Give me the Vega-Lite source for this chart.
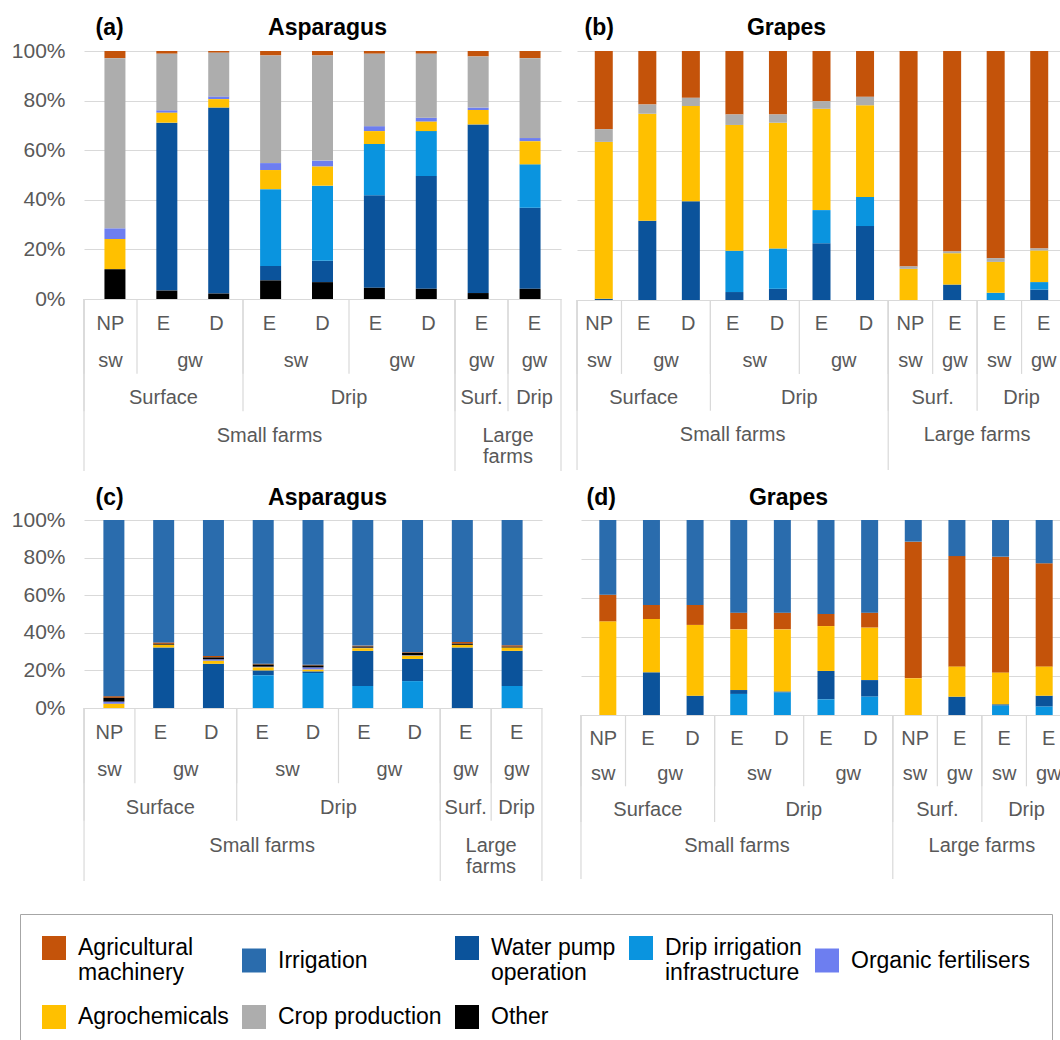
{
  "$schema": "https://vega.github.io/schema/vega-lite/v6.json",
  "background": "white",
  "padding": {"left": 11, "top": 16, "right": 0, "bottom": 0},
  "config": {
    "view": {"stroke": null},
    "font": "Liberation Sans",
    "axis": {"gridColor": "#d9d9d9", "domainColor": "#d9d9d9"},
    "legend": {
      "orient": "none", "legendX": -64, "legendY": 863,
      "direction": "horizontal", "columns": 5, "gridAlign": "each",
      "symbolType": "square", "symbolSize": 576, "symbolStrokeWidth": 0,
      "labelFontSize": 23, "labelColor": "#000000", "labelLimit": 400, "labelOffset": 12,
      "columnPadding": 13, "rowPadding": 20, "padding": 22,
      "strokeColor": "#a6a6a6", "fillColor": "#ffffff", "title": null
    }
  },
  "datasets": {
    "orderTop": [
      {"c": "Other", "r": 0}, {"c": "Water pump operation", "r": 1}, {"c": "Drip irrigation infrastructure", "r": 2},
      {"c": "Agrochemicals", "r": 3}, {"c": "Organic fertilisers", "r": 4}, {"c": "Crop production", "r": 5},
      {"c": "Agricultural machinery", "r": 6}, {"c": "Irrigation", "r": 7}
    ],
    "orderBottom": [
      {"c": "Drip irrigation infrastructure", "r": 0}, {"c": "Water pump operation", "r": 1}, {"c": "Agrochemicals", "r": 2},
      {"c": "Organic fertilisers", "r": 3}, {"c": "Crop production", "r": 4}, {"c": "Other", "r": 5},
      {"c": "Agricultural machinery", "r": 6}, {"c": "Irrigation", "r": 7}
    ],
    "a": [
      {"i": 0, "l1": "NP", "l2": "sw", "l3": "Surface", "l4": "Small farms", "Other": 12.0, "Agrochemicals": 12.2, "Organic fertilisers": 4.3, "Crop production": 68.6, "Agricultural machinery": 2.9},
      {"i": 1, "l1": "E", "l2": "gw", "l3": "Surface", "l4": "Small farms", "Other": 3.4, "Water pump operation": 67.7, "Agrochemicals": 4.0, "Organic fertilisers": 1.0, "Crop production": 22.8, "Agricultural machinery": 1.1},
      {"i": 2, "l1": "D", "l2": "gw", "l3": "Surface", "l4": "Small farms", "Other": 2.2, "Water pump operation": 75.0, "Agrochemicals": 3.4, "Organic fertilisers": 1.1, "Crop production": 17.6, "Agricultural machinery": 0.7},
      {"i": 3, "l1": "E", "l2": "sw", "l3": "Drip", "l4": "Small farms", "Other": 7.5, "Water pump operation": 5.8, "Drip irrigation infrastructure": 31.0, "Agrochemicals": 7.7, "Organic fertilisers": 2.8, "Crop production": 43.4, "Agricultural machinery": 1.8},
      {"i": 4, "l1": "D", "l2": "sw", "l3": "Drip", "l4": "Small farms", "Other": 6.8, "Water pump operation": 8.6, "Drip irrigation infrastructure": 30.3, "Agrochemicals": 7.7, "Organic fertilisers": 2.4, "Crop production": 42.4, "Agricultural machinery": 1.8},
      {"i": 5, "l1": "E", "l2": "gw", "l3": "Drip", "l4": "Small farms", "Other": 4.5, "Water pump operation": 37.3, "Drip irrigation infrastructure": 20.7, "Agrochemicals": 5.2, "Organic fertilisers": 2.0, "Crop production": 29.2, "Agricultural machinery": 1.1},
      {"i": 6, "l1": "D", "l2": "gw", "l3": "Drip", "l4": "Small farms", "Other": 4.1, "Water pump operation": 45.5, "Drip irrigation infrastructure": 18.1, "Agrochemicals": 3.8, "Organic fertilisers": 1.6, "Crop production": 25.8, "Agricultural machinery": 1.1},
      {"i": 7, "l1": "E", "l2": "gw", "l3": "Surf.", "l4": "Large\nfarms", "Other": 2.4, "Water pump operation": 68.0, "Agrochemicals": 5.8, "Organic fertilisers": 1.0, "Crop production": 20.6, "Agricultural machinery": 2.2},
      {"i": 8, "l1": "E", "l2": "gw", "l3": "Drip", "l4": "Large\nfarms", "Other": 4.1, "Water pump operation": 32.7, "Drip irrigation infrastructure": 17.5, "Agrochemicals": 9.3, "Organic fertilisers": 1.3, "Crop production": 32.2, "Agricultural machinery": 2.9}
    ],
    "b": [
      {"i": 0, "l1": "NP", "l2": "sw", "l3": "Surface", "l4": "Small farms", "Water pump operation": 0.5, "Agrochemicals": 63.0, "Crop production": 5.1, "Agricultural machinery": 31.4},
      {"i": 1, "l1": "E", "l2": "gw", "l3": "Surface", "l4": "Small farms", "Water pump operation": 31.8, "Agrochemicals": 43.0, "Crop production": 3.7, "Agricultural machinery": 21.5},
      {"i": 2, "l1": "D", "l2": "gw", "l3": "Surface", "l4": "Small farms", "Water pump operation": 39.7, "Agrochemicals": 38.2, "Crop production": 3.3, "Agricultural machinery": 18.8},
      {"i": 3, "l1": "E", "l2": "sw", "l3": "Drip", "l4": "Small farms", "Water pump operation": 3.2, "Drip irrigation infrastructure": 16.6, "Agrochemicals": 50.5, "Crop production": 4.2, "Agricultural machinery": 25.5},
      {"i": 4, "l1": "D", "l2": "sw", "l3": "Drip", "l4": "Small farms", "Water pump operation": 4.5, "Drip irrigation infrastructure": 16.2, "Agrochemicals": 50.5, "Crop production": 3.3, "Agricultural machinery": 25.5},
      {"i": 5, "l1": "E", "l2": "gw", "l3": "Drip", "l4": "Small farms", "Water pump operation": 22.8, "Drip irrigation infrastructure": 13.3, "Agrochemicals": 40.7, "Crop production": 3.0, "Agricultural machinery": 20.2},
      {"i": 6, "l1": "D", "l2": "gw", "l3": "Drip", "l4": "Small farms", "Water pump operation": 29.7, "Drip irrigation infrastructure": 11.7, "Agrochemicals": 36.8, "Crop production": 3.4, "Agricultural machinery": 18.4},
      {"i": 7, "l1": "NP", "l2": "sw", "l3": "Surf.", "l4": "Large farms", "Agrochemicals": 12.5, "Crop production": 1.0, "Agricultural machinery": 86.5},
      {"i": 8, "l1": "E", "l2": "gw", "l3": "Surf.", "l4": "Large farms", "Water pump operation": 6.2, "Agrochemicals": 12.6, "Crop production": 0.7, "Agricultural machinery": 80.5},
      {"i": 9, "l1": "E", "l2": "sw", "l3": "Drip", "l4": "Large farms", "Drip irrigation infrastructure": 2.9, "Agrochemicals": 12.4, "Crop production": 1.5, "Agricultural machinery": 83.2},
      {"i": 10, "l1": "E", "l2": "gw", "l3": "Drip", "l4": "Large farms", "Water pump operation": 4.2, "Drip irrigation infrastructure": 3.0, "Agrochemicals": 12.7, "Crop production": 0.8, "Agricultural machinery": 79.3}
    ],
    "c": [
      {"i": 0, "l1": "NP", "l2": "sw", "l3": "Surface", "l4": "Small farms", "Agrochemicals": 2.2, "Organic fertilisers": 1.2, "Other": 2.0, "Agricultural machinery": 0.9, "Irrigation": 93.7},
      {"i": 1, "l1": "E", "l2": "gw", "l3": "Surface", "l4": "Small farms", "Water pump operation": 32.2, "Agrochemicals": 1.5, "Other": 0.4, "Agricultural machinery": 0.8, "Irrigation": 65.1},
      {"i": 2, "l1": "D", "l2": "gw", "l3": "Surface", "l4": "Small farms", "Water pump operation": 23.5, "Agrochemicals": 1.6, "Organic fertilisers": 0.8, "Other": 1.0, "Agricultural machinery": 0.8, "Irrigation": 72.3},
      {"i": 3, "l1": "E", "l2": "sw", "l3": "Drip", "l4": "Small farms", "Drip irrigation infrastructure": 17.4, "Water pump operation": 2.6, "Agrochemicals": 1.6, "Organic fertilisers": 0.4, "Other": 1.1, "Agricultural machinery": 0.5, "Irrigation": 76.4},
      {"i": 4, "l1": "D", "l2": "sw", "l3": "Drip", "l4": "Small farms", "Drip irrigation infrastructure": 18.6, "Water pump operation": 0.9, "Agrochemicals": 0.9, "Organic fertilisers": 1.2, "Other": 1.0, "Agricultural machinery": 0.4, "Irrigation": 77.0},
      {"i": 5, "l1": "E", "l2": "gw", "l3": "Drip", "l4": "Small farms", "Drip irrigation infrastructure": 11.7, "Water pump operation": 18.7, "Agrochemicals": 1.4, "Organic fertilisers": 0.3, "Other": 0.6, "Agricultural machinery": 0.5, "Irrigation": 66.8},
      {"i": 6, "l1": "D", "l2": "gw", "l3": "Drip", "l4": "Small farms", "Drip irrigation infrastructure": 14.3, "Water pump operation": 11.8, "Agrochemicals": 1.7, "Organic fertilisers": 0.3, "Other": 1.2, "Agricultural machinery": 0.4, "Irrigation": 70.3},
      {"i": 7, "l1": "E", "l2": "gw", "l3": "Surf.", "l4": "Large\nfarms", "Water pump operation": 32.2, "Agrochemicals": 1.4, "Other": 0.6, "Agricultural machinery": 0.9, "Irrigation": 64.9},
      {"i": 8, "l1": "E", "l2": "gw", "l3": "Drip", "l4": "Large\nfarms", "Drip irrigation infrastructure": 11.7, "Water pump operation": 18.7, "Agrochemicals": 1.8, "Other": 0.4, "Agricultural machinery": 0.8, "Irrigation": 66.6}
    ],
    "d": [
      {"i": 0, "l1": "NP", "l2": "sw", "l3": "Surface", "l4": "Small farms", "Agrochemicals": 47.9, "Agricultural machinery": 13.8, "Irrigation": 38.3},
      {"i": 1, "l1": "E", "l2": "gw", "l3": "Surface", "l4": "Small farms", "Water pump operation": 21.9, "Agrochemicals": 27.3, "Agricultural machinery": 7.2, "Irrigation": 43.6},
      {"i": 2, "l1": "D", "l2": "gw", "l3": "Surface", "l4": "Small farms", "Water pump operation": 9.9, "Agrochemicals": 36.3, "Agricultural machinery": 10.2, "Irrigation": 43.6},
      {"i": 3, "l1": "E", "l2": "sw", "l3": "Drip", "l4": "Small farms", "Drip irrigation infrastructure": 10.8, "Water pump operation": 2.0, "Agrochemicals": 31.1, "Agricultural machinery": 8.6, "Irrigation": 47.5},
      {"i": 4, "l1": "D", "l2": "sw", "l3": "Drip", "l4": "Small farms", "Drip irrigation infrastructure": 11.5, "Water pump operation": 0.6, "Agrochemicals": 31.8, "Agricultural machinery": 8.6, "Irrigation": 47.5},
      {"i": 5, "l1": "E", "l2": "gw", "l3": "Drip", "l4": "Small farms", "Drip irrigation infrastructure": 8.0, "Water pump operation": 14.6, "Agrochemicals": 23.0, "Agricultural machinery": 6.2, "Irrigation": 48.2},
      {"i": 6, "l1": "D", "l2": "gw", "l3": "Drip", "l4": "Small farms", "Drip irrigation infrastructure": 9.4, "Water pump operation": 8.5, "Agrochemicals": 26.9, "Agricultural machinery": 7.7, "Irrigation": 47.5},
      {"i": 7, "l1": "NP", "l2": "sw", "l3": "Surf.", "l4": "Large farms", "Agrochemicals": 18.8, "Agricultural machinery": 70.1, "Irrigation": 11.1},
      {"i": 8, "l1": "E", "l2": "gw", "l3": "Surf.", "l4": "Large farms", "Water pump operation": 9.4, "Agrochemicals": 15.4, "Agricultural machinery": 56.7, "Irrigation": 18.5},
      {"i": 9, "l1": "E", "l2": "sw", "l3": "Drip", "l4": "Large farms", "Drip irrigation infrastructure": 4.8, "Water pump operation": 0.7, "Agrochemicals": 16.2, "Agricultural machinery": 59.5, "Irrigation": 18.8},
      {"i": 10, "l1": "E", "l2": "gw", "l3": "Drip", "l4": "Large farms", "Drip irrigation infrastructure": 4.3, "Water pump operation": 5.6, "Agrochemicals": 14.9, "Agricultural machinery": 53.0, "Irrigation": 22.2}
    ]
  },
  "resolve": {"scale": {"x": "independent", "y": "independent"}},
  "spacing": 14,
  "vconcat": [
    {
      "resolve": {"scale": {"x": "independent", "y": "independent"}},
      "spacing": 14,
      "hconcat": [
        {
          "bounds": "flush", "spacing": 0,
          "resolve": {"scale": {"x": "independent", "y": "independent"}},
          "vconcat": [
            {
              "width": 477, "height": 248,
              "data": {"name": "a"},
              "transform": [
                {"fold": ["Agricultural machinery", "Irrigation", "Water pump operation", "Drip irrigation infrastructure", "Organic fertilisers", "Agrochemicals", "Crop production", "Other"], "as": ["c", "v"]},
                {"filter": "isValid(datum.v)"},
                {"lookup": "c", "from": {"data": {"name": "orderTop"}, "key": "c", "fields": ["r"]}}
              ],
              "mark": {"type": "bar", "size": 21},
              "encoding": {
                "x": {"field": "i", "type": "quantitative", "scale": {"domain": [-0.5, 8.5], "nice": false, "zero": false},
                  "axis": {"orient": "top", "domain": false, "ticks": false, "labels": false, "grid": false, "title": "Asparagus", "titleFontSize": 23, "titleFontWeight": "bold", "titleColor": "#000000", "titleX": 243, "titleY": -24, "titleBaseline": "middle", "titleAlign": "center"}},
                "y": {"field": "v", "type": "quantitative", "stack": "normalize",
                  "axis": {"values": [0, 0.2, 0.4, 0.6, 0.8, 1], "format": ".0%", "domain": false, "ticks": false, "labelPadding": 19, "labelFontSize": 21, "labelColor": "#595959",
                    "title": "(a)", "titleAngle": 0, "titleX": 11, "titleY": -24, "titleAlign": "left", "titleBaseline": "middle", "titleFontSize": 23, "titleFontWeight": "bold", "titleColor": "#000000"}},
                "color": {"field": "c", "type": "nominal",
                  "scale": {"domain": ["Agricultural machinery", "Irrigation", "Water pump operation", "Drip irrigation infrastructure", "Organic fertilisers", "Agrochemicals", "Crop production", "Other"],
                    "range": ["#c4530a", "#2a6cad", "#0b539b", "#0a94df", "#6d7ef0", "#ffc000", "#adadad", "#000000"]},
                  "legend": {"labelExpr": "datum.label == 'Agricultural machinery' ? ['Agricultural', 'machinery'] : datum.label == 'Water pump operation' ? ['Water pump', 'operation'] : datum.label == 'Drip irrigation infrastructure' ? ['Drip irrigation', 'infrastructure'] : datum.label"}},
                "order": {"field": "r", "type": "quantitative"}
              }
            },
            {
              "width": 477, "height": 172,
              "data": {"name": "a"},
              "layer": [
                {"mark": {"type": "text", "fontSize": 20, "fill": "#595959", "baseline": "middle", "dy": 6},
                  "encoding": {"x": {"field": "i", "type": "quantitative", "scale": {"domain": [-0.5, 8.5], "nice": false, "zero": false}, "axis": null},
                    "y": {"datum": 0.5, "type": "quantitative", "scale": {"domain": [0, 4.6], "reverse": true, "nice": false, "zero": false}, "axis": null},
                    "text": {"field": "l1"}}},
                {"transform": [{"aggregate": [{"op": "mean", "field": "i", "as": "m"}], "groupby": ["l4", "l3", "l2"]}],
                  "mark": {"type": "text", "fontSize": 20, "fill": "#595959", "baseline": "middle", "dy": 6},
                  "encoding": {"x": {"field": "m", "type": "quantitative"}, "y": {"datum": 1.5, "type": "quantitative"}, "text": {"field": "l2"}}},
                {"transform": [{"aggregate": [{"op": "mean", "field": "i", "as": "m"}], "groupby": ["l4", "l3"]}],
                  "mark": {"type": "text", "fontSize": 20, "fill": "#595959", "baseline": "middle", "dy": 6},
                  "encoding": {"x": {"field": "m", "type": "quantitative"}, "y": {"datum": 2.5, "type": "quantitative"}, "text": {"field": "l3"}}},
                {"transform": [{"aggregate": [{"op": "mean", "field": "i", "as": "m"}], "groupby": ["l4"]}],
                  "mark": {"type": "text", "fontSize": 20, "fill": "#595959", "baseline": "top", "dy": -4, "lineBreak": "\n", "lineHeight": 21},
                  "encoding": {"x": {"field": "m", "type": "quantitative"}, "y": {"datum": 3.5, "type": "quantitative"}, "text": {"field": "l4"}}},
                {"transform": [{"aggregate": [{"op": "min", "field": "i", "as": "s"}], "groupby": ["l4", "l3", "l2"]}],
                  "mark": {"type": "rule", "color": "#d9d9d9", "strokeWidth": 1.2, "xOffset": -26.5},
                  "encoding": {"x": {"field": "s", "type": "quantitative"}, "y": {"datum": 0, "type": "quantitative"}, "y2": {"datum": 2}}},
                {"transform": [{"aggregate": [{"op": "min", "field": "i", "as": "s"}], "groupby": ["l4", "l3"]}],
                  "mark": {"type": "rule", "color": "#d9d9d9", "strokeWidth": 1.2, "xOffset": -26.5},
                  "encoding": {"x": {"field": "s", "type": "quantitative"}, "y": {"datum": 0, "type": "quantitative"}, "y2": {"datum": 3}}},
                {"transform": [{"aggregate": [{"op": "min", "field": "i", "as": "s"}], "groupby": ["l4"]}],
                  "mark": {"type": "rule", "color": "#d9d9d9", "strokeWidth": 1.2, "xOffset": -26.5},
                  "encoding": {"x": {"field": "s", "type": "quantitative"}, "y": {"datum": 0, "type": "quantitative"}, "y2": {"datum": 4.6}}},
                {"transform": [{"aggregate": [{"op": "max", "field": "i", "as": "e"}]}],
                  "mark": {"type": "rule", "color": "#d9d9d9", "strokeWidth": 1.2, "xOffset": 26.5},
                  "encoding": {"x": {"field": "e", "type": "quantitative"}, "y": {"datum": 0, "type": "quantitative"}, "y2": {"datum": 4.6}}}
              ]
            }
          ]
        },
        {
          "bounds": "flush", "spacing": 0,
          "resolve": {"scale": {"x": "independent", "y": "independent"}},
          "vconcat": [
            {
              "width": 489, "height": 249,
              "data": {"name": "b"},
              "transform": [
                {"fold": ["Agricultural machinery", "Irrigation", "Water pump operation", "Drip irrigation infrastructure", "Organic fertilisers", "Agrochemicals", "Crop production", "Other"], "as": ["c", "v"]},
                {"filter": "isValid(datum.v)"},
                {"lookup": "c", "from": {"data": {"name": "orderTop"}, "key": "c", "fields": ["r"]}}
              ],
              "mark": {"type": "bar", "size": 18},
              "encoding": {
                "x": {"field": "i", "type": "quantitative", "scale": {"domain": [-0.5, 10.5], "nice": false, "zero": false},
                  "axis": {"orient": "top", "domain": false, "ticks": false, "labels": false, "grid": false, "title": "Grapes", "titleFontSize": 23, "titleFontWeight": "bold", "titleColor": "#000000", "titleX": 209, "titleY": -24, "titleBaseline": "middle", "titleAlign": "center"}},
                "y": {"field": "v", "type": "quantitative", "stack": "normalize",
                  "axis": {"values": [0, 0.2, 0.4, 0.6, 0.8, 1], "domain": false, "ticks": false, "labels": false,
                    "title": "(b)", "titleAngle": 0, "titleX": 7, "titleY": -24, "titleAlign": "left", "titleBaseline": "middle", "titleFontSize": 23, "titleFontWeight": "bold", "titleColor": "#000000"}},
                "color": {"field": "c", "type": "nominal",
                  "scale": {"domain": ["Agricultural machinery", "Irrigation", "Water pump operation", "Drip irrigation infrastructure", "Organic fertilisers", "Agrochemicals", "Crop production", "Other"],
                    "range": ["#c4530a", "#2a6cad", "#0b539b", "#0a94df", "#6d7ef0", "#ffc000", "#adadad", "#000000"]},
                  "legend": {"labelExpr": "datum.label == 'Agricultural machinery' ? ['Agricultural', 'machinery'] : datum.label == 'Water pump operation' ? ['Water pump', 'operation'] : datum.label == 'Drip irrigation infrastructure' ? ['Drip irrigation', 'infrastructure'] : datum.label"}},
                "order": {"field": "r", "type": "quantitative"}
              }
            },
            {
              "width": 489, "height": 170,
              "data": {"name": "b"},
              "layer": [
                {"mark": {"type": "text", "fontSize": 20, "fill": "#595959", "baseline": "middle", "dy": 6},
                  "encoding": {"x": {"field": "i", "type": "quantitative", "scale": {"domain": [-0.5, 10.5], "nice": false, "zero": false}, "axis": null},
                    "y": {"datum": 0.5, "type": "quantitative", "scale": {"domain": [0, 4.6], "reverse": true, "nice": false, "zero": false}, "axis": null},
                    "text": {"field": "l1"}}},
                {"transform": [{"aggregate": [{"op": "mean", "field": "i", "as": "m"}], "groupby": ["l4", "l3", "l2"]}],
                  "mark": {"type": "text", "fontSize": 20, "fill": "#595959", "baseline": "middle", "dy": 6},
                  "encoding": {"x": {"field": "m", "type": "quantitative"}, "y": {"datum": 1.5, "type": "quantitative"}, "text": {"field": "l2"}}},
                {"transform": [{"aggregate": [{"op": "mean", "field": "i", "as": "m"}], "groupby": ["l4", "l3"]}],
                  "mark": {"type": "text", "fontSize": 20, "fill": "#595959", "baseline": "middle", "dy": 6},
                  "encoding": {"x": {"field": "m", "type": "quantitative"}, "y": {"datum": 2.5, "type": "quantitative"}, "text": {"field": "l3"}}},
                {"transform": [{"aggregate": [{"op": "mean", "field": "i", "as": "m"}], "groupby": ["l4"]}],
                  "mark": {"type": "text", "fontSize": 20, "fill": "#595959", "baseline": "middle", "dy": 6},
                  "encoding": {"x": {"field": "m", "type": "quantitative"}, "y": {"datum": 3.5, "type": "quantitative"}, "text": {"field": "l4"}}},
                {"transform": [{"aggregate": [{"op": "min", "field": "i", "as": "s"}], "groupby": ["l4", "l3", "l2"]}],
                  "mark": {"type": "rule", "color": "#d9d9d9", "strokeWidth": 1.2, "xOffset": -22.2},
                  "encoding": {"x": {"field": "s", "type": "quantitative"}, "y": {"datum": 0, "type": "quantitative"}, "y2": {"datum": 2}}},
                {"transform": [{"aggregate": [{"op": "min", "field": "i", "as": "s"}], "groupby": ["l4", "l3"]}],
                  "mark": {"type": "rule", "color": "#d9d9d9", "strokeWidth": 1.2, "xOffset": -22.2},
                  "encoding": {"x": {"field": "s", "type": "quantitative"}, "y": {"datum": 0, "type": "quantitative"}, "y2": {"datum": 3}}},
                {"transform": [{"aggregate": [{"op": "min", "field": "i", "as": "s"}], "groupby": ["l4"]}],
                  "mark": {"type": "rule", "color": "#d9d9d9", "strokeWidth": 1.2, "xOffset": -22.2},
                  "encoding": {"x": {"field": "s", "type": "quantitative"}, "y": {"datum": 0, "type": "quantitative"}, "y2": {"datum": 4.6}}},
                {"transform": [{"aggregate": [{"op": "max", "field": "i", "as": "e"}]}],
                  "mark": {"type": "rule", "color": "#d9d9d9", "strokeWidth": 1.2, "xOffset": 22.2},
                  "encoding": {"x": {"field": "e", "type": "quantitative"}, "y": {"datum": 0, "type": "quantitative"}, "y2": {"datum": 4.6}}}
              ]
            }
          ]
        }
      ]
    },
    {
      "resolve": {"scale": {"x": "independent", "y": "independent"}},
      "spacing": 37,
      "hconcat": [
        {
          "bounds": "flush", "spacing": 0,
          "resolve": {"scale": {"x": "independent", "y": "independent"}},
          "vconcat": [
            {
              "width": 458, "height": 188,
              "data": {"name": "c"},
              "transform": [
                {"fold": ["Agricultural machinery", "Irrigation", "Water pump operation", "Drip irrigation infrastructure", "Organic fertilisers", "Agrochemicals", "Crop production", "Other"], "as": ["c", "v"]},
                {"filter": "isValid(datum.v)"},
                {"lookup": "c", "from": {"data": {"name": "orderBottom"}, "key": "c", "fields": ["r"]}}
              ],
              "mark": {"type": "bar", "size": 21},
              "encoding": {
                "x": {"field": "i", "type": "quantitative", "scale": {"domain": [-0.5, 8.5], "nice": false, "zero": false},
                  "axis": {"orient": "top", "domain": false, "ticks": false, "labels": false, "grid": false, "title": "Asparagus", "titleFontSize": 23, "titleFontWeight": "bold", "titleColor": "#000000", "titleX": 243, "titleY": -23, "titleBaseline": "middle", "titleAlign": "center"}},
                "y": {"field": "v", "type": "quantitative", "stack": "normalize",
                  "axis": {"values": [0, 0.2, 0.4, 0.6, 0.8, 1], "format": ".0%", "domain": false, "ticks": false, "labelPadding": 19, "labelFontSize": 21, "labelColor": "#595959",
                    "title": "(c)", "titleAngle": 0, "titleX": 11, "titleY": -23, "titleAlign": "left", "titleBaseline": "middle", "titleFontSize": 23, "titleFontWeight": "bold", "titleColor": "#000000"}},
                "color": {"field": "c", "type": "nominal",
                  "scale": {"domain": ["Agricultural machinery", "Irrigation", "Water pump operation", "Drip irrigation infrastructure", "Organic fertilisers", "Agrochemicals", "Crop production", "Other"],
                    "range": ["#c4530a", "#2a6cad", "#0b539b", "#0a94df", "#6d7ef0", "#ffc000", "#adadad", "#000000"]},
                  "legend": {"labelExpr": "datum.label == 'Agricultural machinery' ? ['Agricultural', 'machinery'] : datum.label == 'Water pump operation' ? ['Water pump', 'operation'] : datum.label == 'Drip irrigation infrastructure' ? ['Drip irrigation', 'infrastructure'] : datum.label"}},
                "order": {"field": "r", "type": "quantitative"}
              }
            },
            {
              "width": 458, "height": 173,
              "data": {"name": "c"},
              "layer": [
                {"mark": {"type": "text", "fontSize": 20, "fill": "#595959", "baseline": "middle", "dy": 6},
                  "encoding": {"x": {"field": "i", "type": "quantitative", "scale": {"domain": [-0.5, 8.5], "nice": false, "zero": false}, "axis": null},
                    "y": {"datum": 0.5, "type": "quantitative", "scale": {"domain": [0, 4.6], "reverse": true, "nice": false, "zero": false}, "axis": null},
                    "text": {"field": "l1"}}},
                {"transform": [{"aggregate": [{"op": "mean", "field": "i", "as": "m"}], "groupby": ["l4", "l3", "l2"]}],
                  "mark": {"type": "text", "fontSize": 20, "fill": "#595959", "baseline": "middle", "dy": 6},
                  "encoding": {"x": {"field": "m", "type": "quantitative"}, "y": {"datum": 1.5, "type": "quantitative"}, "text": {"field": "l2"}}},
                {"transform": [{"aggregate": [{"op": "mean", "field": "i", "as": "m"}], "groupby": ["l4", "l3"]}],
                  "mark": {"type": "text", "fontSize": 20, "fill": "#595959", "baseline": "middle", "dy": 6},
                  "encoding": {"x": {"field": "m", "type": "quantitative"}, "y": {"datum": 2.5, "type": "quantitative"}, "text": {"field": "l3"}}},
                {"transform": [{"aggregate": [{"op": "mean", "field": "i", "as": "m"}], "groupby": ["l4"]}],
                  "mark": {"type": "text", "fontSize": 20, "fill": "#595959", "baseline": "top", "dy": -4, "lineBreak": "\n", "lineHeight": 21},
                  "encoding": {"x": {"field": "m", "type": "quantitative"}, "y": {"datum": 3.5, "type": "quantitative"}, "text": {"field": "l4"}}},
                {"transform": [{"aggregate": [{"op": "min", "field": "i", "as": "s"}], "groupby": ["l4", "l3", "l2"]}],
                  "mark": {"type": "rule", "color": "#d9d9d9", "strokeWidth": 1.2, "xOffset": -25.4},
                  "encoding": {"x": {"field": "s", "type": "quantitative"}, "y": {"datum": 0, "type": "quantitative"}, "y2": {"datum": 2}}},
                {"transform": [{"aggregate": [{"op": "min", "field": "i", "as": "s"}], "groupby": ["l4", "l3"]}],
                  "mark": {"type": "rule", "color": "#d9d9d9", "strokeWidth": 1.2, "xOffset": -25.4},
                  "encoding": {"x": {"field": "s", "type": "quantitative"}, "y": {"datum": 0, "type": "quantitative"}, "y2": {"datum": 3}}},
                {"transform": [{"aggregate": [{"op": "min", "field": "i", "as": "s"}], "groupby": ["l4"]}],
                  "mark": {"type": "rule", "color": "#d9d9d9", "strokeWidth": 1.2, "xOffset": -25.4},
                  "encoding": {"x": {"field": "s", "type": "quantitative"}, "y": {"datum": 0, "type": "quantitative"}, "y2": {"datum": 4.6}}},
                {"transform": [{"aggregate": [{"op": "max", "field": "i", "as": "e"}]}],
                  "mark": {"type": "rule", "color": "#d9d9d9", "strokeWidth": 1.2, "xOffset": 25.4},
                  "encoding": {"x": {"field": "e", "type": "quantitative"}, "y": {"datum": 0, "type": "quantitative"}, "y2": {"datum": 4.6}}}
              ]
            }
          ]
        },
        {
          "bounds": "flush", "spacing": 0,
          "resolve": {"scale": {"x": "independent", "y": "independent"}},
          "vconcat": [
            {
              "width": 490, "height": 195,
              "data": {"name": "d"},
              "transform": [
                {"fold": ["Agricultural machinery", "Irrigation", "Water pump operation", "Drip irrigation infrastructure", "Organic fertilisers", "Agrochemicals", "Crop production", "Other"], "as": ["c", "v"]},
                {"filter": "isValid(datum.v)"},
                {"lookup": "c", "from": {"data": {"name": "orderBottom"}, "key": "c", "fields": ["r"]}}
              ],
              "mark": {"type": "bar", "size": 17},
              "encoding": {
                "x": {"field": "i", "type": "quantitative", "scale": {"domain": [-0.5, 10.5], "nice": false, "zero": false},
                  "axis": {"orient": "top", "domain": false, "ticks": false, "labels": false, "grid": false, "title": "Grapes", "titleFontSize": 23, "titleFontWeight": "bold", "titleColor": "#000000", "titleX": 207, "titleY": -23, "titleBaseline": "middle", "titleAlign": "center"}},
                "y": {"field": "v", "type": "quantitative", "stack": "normalize",
                  "axis": {"values": [0, 0.2, 0.4, 0.6, 0.8, 1], "domain": false, "ticks": false, "labels": false,
                    "title": "(d)", "titleAngle": 0, "titleX": 5, "titleY": -23, "titleAlign": "left", "titleBaseline": "middle", "titleFontSize": 23, "titleFontWeight": "bold", "titleColor": "#000000"}},
                "color": {"field": "c", "type": "nominal",
                  "scale": {"domain": ["Agricultural machinery", "Irrigation", "Water pump operation", "Drip irrigation infrastructure", "Organic fertilisers", "Agrochemicals", "Crop production", "Other"],
                    "range": ["#c4530a", "#2a6cad", "#0b539b", "#0a94df", "#6d7ef0", "#ffc000", "#adadad", "#000000"]},
                  "legend": {"labelExpr": "datum.label == 'Agricultural machinery' ? ['Agricultural', 'machinery'] : datum.label == 'Water pump operation' ? ['Water pump', 'operation'] : datum.label == 'Drip irrigation infrastructure' ? ['Drip irrigation', 'infrastructure'] : datum.label"}},
                "order": {"field": "r", "type": "quantitative"}
              }
            },
            {
              "width": 490, "height": 164,
              "data": {"name": "d"},
              "layer": [
                {"mark": {"type": "text", "fontSize": 20, "fill": "#595959", "baseline": "middle", "dy": 6},
                  "encoding": {"x": {"field": "i", "type": "quantitative", "scale": {"domain": [-0.5, 10.5], "nice": false, "zero": false}, "axis": null},
                    "y": {"datum": 0.5, "type": "quantitative", "scale": {"domain": [0, 4.6], "reverse": true, "nice": false, "zero": false}, "axis": null},
                    "text": {"field": "l1"}}},
                {"transform": [{"aggregate": [{"op": "mean", "field": "i", "as": "m"}], "groupby": ["l4", "l3", "l2"]}],
                  "mark": {"type": "text", "fontSize": 20, "fill": "#595959", "baseline": "middle", "dy": 6},
                  "encoding": {"x": {"field": "m", "type": "quantitative"}, "y": {"datum": 1.5, "type": "quantitative"}, "text": {"field": "l2"}}},
                {"transform": [{"aggregate": [{"op": "mean", "field": "i", "as": "m"}], "groupby": ["l4", "l3"]}],
                  "mark": {"type": "text", "fontSize": 20, "fill": "#595959", "baseline": "middle", "dy": 6},
                  "encoding": {"x": {"field": "m", "type": "quantitative"}, "y": {"datum": 2.5, "type": "quantitative"}, "text": {"field": "l3"}}},
                {"transform": [{"aggregate": [{"op": "mean", "field": "i", "as": "m"}], "groupby": ["l4"]}],
                  "mark": {"type": "text", "fontSize": 20, "fill": "#595959", "baseline": "middle", "dy": 6},
                  "encoding": {"x": {"field": "m", "type": "quantitative"}, "y": {"datum": 3.5, "type": "quantitative"}, "text": {"field": "l4"}}},
                {"transform": [{"aggregate": [{"op": "min", "field": "i", "as": "s"}], "groupby": ["l4", "l3", "l2"]}],
                  "mark": {"type": "rule", "color": "#d9d9d9", "strokeWidth": 1.2, "xOffset": -22.3},
                  "encoding": {"x": {"field": "s", "type": "quantitative"}, "y": {"datum": 0, "type": "quantitative"}, "y2": {"datum": 2}}},
                {"transform": [{"aggregate": [{"op": "min", "field": "i", "as": "s"}], "groupby": ["l4", "l3"]}],
                  "mark": {"type": "rule", "color": "#d9d9d9", "strokeWidth": 1.2, "xOffset": -22.3},
                  "encoding": {"x": {"field": "s", "type": "quantitative"}, "y": {"datum": 0, "type": "quantitative"}, "y2": {"datum": 3}}},
                {"transform": [{"aggregate": [{"op": "min", "field": "i", "as": "s"}], "groupby": ["l4"]}],
                  "mark": {"type": "rule", "color": "#d9d9d9", "strokeWidth": 1.2, "xOffset": -22.3},
                  "encoding": {"x": {"field": "s", "type": "quantitative"}, "y": {"datum": 0, "type": "quantitative"}, "y2": {"datum": 4.6}}},
                {"transform": [{"aggregate": [{"op": "max", "field": "i", "as": "e"}]}],
                  "mark": {"type": "rule", "color": "#d9d9d9", "strokeWidth": 1.2, "xOffset": 22.3},
                  "encoding": {"x": {"field": "e", "type": "quantitative"}, "y": {"datum": 0, "type": "quantitative"}, "y2": {"datum": 4.6}}}
              ]
            }
          ]
        }
      ]
    }
  ]
}
